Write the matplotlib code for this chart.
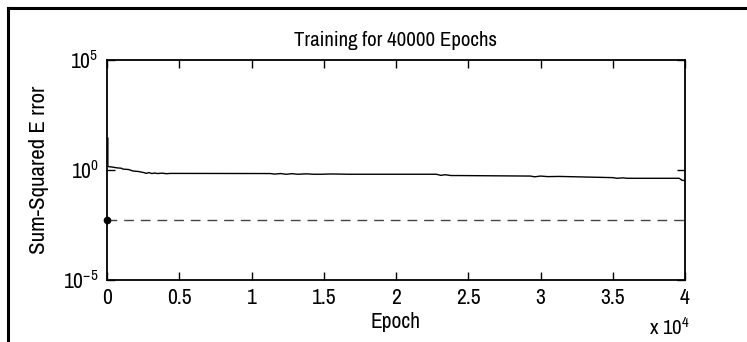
import matplotlib
matplotlib.use("Agg")
import matplotlib.pyplot as plt
from matplotlib.lines import Line2D
from matplotlib.ticker import FixedLocator, NullLocator

FONT = 'Archivo Narrow'
plt.rcParams['font.family'] = [FONT, 'Liberation Sans', 'DejaVu Sans']
plt.rcParams['mathtext.fontset'] = 'custom'
plt.rcParams['mathtext.rm'] = FONT
plt.rcParams['mathtext.it'] = FONT
plt.rcParams['mathtext.default'] = 'regular'

# ---- data ----
epochs = [60, 60, 120, 200, 400, 700, 1000, 1100, 1500, 1800, 2200, 2600, 2700,
          2900, 3100, 3300, 3500, 3800, 4100, 4400, 11300, 11600, 12000,
          12400, 12800, 13200, 13800, 14300, 14800, 15500, 16800, 22800,
          23100, 23400, 23800, 24200, 29300, 29600, 30000, 30500, 31300,
          35000, 35300, 35700, 36000, 39600, 39800, 40000]
errors = [28, 1.45, 1.42, 1.40, 1.35, 1.25, 1.20, 1.10, 1.05, 0.90, 0.85,
          0.75, 0.70, 0.76, 0.69, 0.73, 0.69, 0.72, 0.68, 0.70, 0.69, 0.65,
          0.69, 0.64, 0.68, 0.64, 0.67, 0.64, 0.64, 0.66, 0.64, 0.64, 0.57,
          0.61, 0.56, 0.56, 0.53, 0.49, 0.53, 0.50, 0.51, 0.45, 0.42, 0.44,
          0.42, 0.42, 0.34, 0.33]
goal = 0.0056
x_ticks = [0, 5000, 10000, 15000, 20000, 25000, 30000, 35000, 40000]
x_tick_labels = ['0', '0.5', '1', '1.5', '2', '2.5', '3', '3.5', '4']
y_ticks = [1e-5, 1e0, 1e5]
y_tick_labels = [r'$10^{-5}$', r'$10^{0}$', r'$10^{5}$']

W, H = 747, 342
fig = plt.figure(figsize=(W / 100, H / 100), dpi=100)
fig.patch.set_facecolor('white')

# frame border (left + top)
fig.add_artist(Line2D([8 / W, 8 / W], [0, 1 - 8 / H], transform=fig.transFigure,
                      color='black', lw=2.2))
fig.add_artist(Line2D([8 / W, 1], [1 - 8 / H, 1 - 8 / H], transform=fig.transFigure,
                      color='black', lw=2.2))

ax_l, ax_r, ax_t, ax_b = 107, 685, 60, 280
ax = fig.add_axes([ax_l / W, 1 - ax_b / H, (ax_r - ax_l) / W, (ax_b - ax_t) / H])

ax.plot(epochs, errors, color='black', lw=1.0)
ax.plot([0, 40000], [goal, goal], color='#444444', lw=1.0, dashes=(7, 5))
ax.plot([0], [goal], 'o', color='black', markersize=4.5, clip_on=False, zorder=5)

ax.set_yscale('log')
ax.set_xlim(0, 40000)
ax.set_ylim(1e-5, 1e5)

ax.xaxis.set_major_locator(FixedLocator(x_ticks))
ax.set_xticklabels(x_tick_labels)
ax.yaxis.set_major_locator(FixedLocator(y_ticks))
ax.yaxis.set_minor_locator(NullLocator())
ax.set_yticklabels(y_tick_labels)

ax.tick_params(direction='in', length=6, width=1, top=True, right=True,
               labelsize=15.5, pad=6, colors='black')
for s in ax.spines.values():
    s.set_linewidth(1.3)
    s.set_color('black')

ax.set_title('Training for 40000 Epochs', fontsize=15, pad=10)
ax.set_xlabel('Epoch', fontsize=15.5, labelpad=3)
ax.set_ylabel('Sum-Squared E rror', fontsize=16.5, labelpad=10)

fig.text(690 / W, 1 - 328 / H, r'x $10^{4}$', fontsize=15, ha='right', va='center')

fig.savefig('out.png', dpi=100, facecolor='white')
